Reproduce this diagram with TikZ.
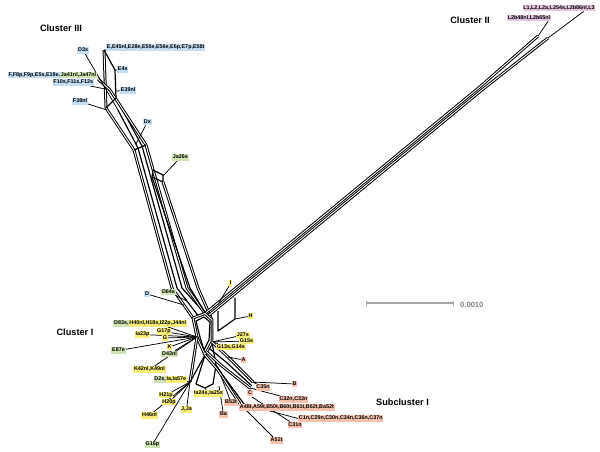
\documentclass[tikz,border=0pt]{standalone}
\usepackage{fontspec}
\setmainfont{Liberation Sans}
\usetikzlibrary{positioning, backgrounds}
\definecolor{yel}{HTML}{F9EE7A}
\definecolor{grn}{HTML}{CFE3B4}
\definecolor{blu}{HTML}{C4DDF0}
\definecolor{sal}{HTML}{F6C1AE}
\definecolor{pur}{HTML}{E3C6E0}
\tikzset{lab/.style={inner sep=0.7pt, text height=4pt, text depth=1.1pt, text=black,
                     font=\fontsize{5.4}{6}\selectfont\bfseries},
         yelbox/.style={lab, fill=yel},
         grnbox/.style={lab, fill=grn},
         blubox/.style={lab, fill=blu},
         salbox/.style={lab, fill=sal},
         purbox/.style={lab, fill=pur},
         ttl/.style={font=\fontsize{9.2}{11}\selectfont\bfseries},
         net/.style={line width=1.2pt, line join=round},
         band/.style={line width=1pt, double=white, double distance=0.9pt, line join=round},
         lead/.style={line width=0.75pt},
         scalebar/.style={line width=1.4pt, black!35},
         }

\begin{document}
\begin{tikzpicture}[x=1pt, y=-1pt]
    \useasboundingbox (0,0) rectangle (600,452);

    \node[ttl] (t3) at (61,28) {Cluster III};
    \node[ttl] (t2) at (470,20) {Cluster II};
    \node[ttl] (t1) at (75,332.5) {Cluster I};
    \node[ttl] (ts) at (402.5,402.5) {Subcluster I};

    \node[blubox, anchor=west] (e1) at (106,47.5) {E,E45nl,E28e,E55e,E56e,E6p,E7p,E58t};
    \node[blubox, anchor=east] (d3s) at (89,50.5) {D3s};
    \node[blubox, anchor=west] (e4s) at (117,69.5) {E4s};
    \node[grnbox, anchor=east] (f2) at (97,75) {Ja41nl,Ja47nl};
    \node[blubox, left=-1pt of f2] (f1) {F,F8p,F9p,E5s,E19e,};
    \node[blubox, anchor=east] (f10) at (94,82.5) {F10s,F11s,F12s};
    \node[blubox, anchor=west] (e39) at (120,90.5) {E39nl};
    \node[blubox, anchor=east] (f38) at (88,101.5) {F38nl};
    \node[blubox, anchor=west] (dx) at (143,122) {Dx};
    \node[grnbox, anchor=west] (ja26) at (172,157.5) {Ja26s};

    \node[purbox] (l1) at (559,8) {L1,L2,L2a,L254s,L2b86nl,L3};
    \node[purbox] (l2b) at (529,18) {L2b48nl,L2b65nl};

    \node[yelbox] (i) at (230.5,283.5) {I};
    \node[yelbox] (h) at (250.5,316) {H};
    \node[yelbox, anchor=west] (j27) at (236,335) {J27s};
    \node[yelbox, anchor=west] (g15) at (239,341) {G15s};
    \node[yelbox, anchor=west] (g13) at (216,347) {G13s,G14s};
    \node[blubox] (d) at (147,294) {D};
    \node[grnbox] (d64) at (168.5,292) {D64s};
    \node[yelbox, anchor=east] (d83b) at (187,323.5) {H40nl,H18s,I22p,J44nl};
    \node[grnbox, left=-1pt of d83b] (d83a) {D83s,};
    \node[yelbox] (ia23) at (142.5,334.5) {Ia23p};
    \node[yelbox] (g17) at (164,331.5) {G17p};
    \node[yelbox] (g) at (165,338) {G};
    \node[grnbox] (e87) at (118.5,350.5) {E87e};
    \node[yelbox] (k) at (169.5,347) {K};
    \node[grnbox] (d43) at (169.5,354) {D43nl};
    \node[yelbox] (k42) at (149.5,369.5) {K42nl,K49nl};
    \node[yelbox, anchor=east] (d2b) at (187,379.5) {Ia,Ia57e};
    \node[grnbox, left=-1pt of d2b] (d2a) {D2s,};
    \node[yelbox] (h21) at (166,395) {H21p};
    \node[yelbox] (h20) at (169,402) {H20p};
    \node[yelbox] (jja) at (186.5,409.5) {J,Ja};
    \node[yelbox] (h46) at (149.5,415.5) {H46nl};
    \node[grnbox] (g16) at (152.5,444.5) {G16p};
    \node[yelbox] (ia24) at (208.5,393.5) {Ia24s,Ia25s};

    \node[salbox] (a) at (243.5,360) {A};
    \node[salbox] (b) at (294.5,384) {B};
    \node[salbox] (c35) at (263,387.5) {C35n};
    \node[salbox] (c) at (250,393) {C};
    \node[salbox] (c32) at (293.5,399.5) {C32n,C33n};
    \node[salbox, anchor=west] (a48) at (239,407.5) {A48t,A59t,B50t,B60t,B61t,B62t,Ba52t};
    \node[salbox, anchor=west] (c1) at (298,418.5) {C1n,C29n,C30n,C34n,C36n,C37n};
    \node[salbox] (c31) at (295,425) {C31n};
    \node[salbox] (a51) at (276.5,440.5) {A51t};
    \node[salbox] (b53) at (231,402.5) {B53t};
    \node[salbox] (ba) at (223.5,414.5) {Ba};

    \coordinate (sb1) at (366,303);
    \coordinate (sb2) at (453,303);
    \node[right=7pt of sb2, yshift=-2pt, inner sep=0pt, text=black!50,
          font=\fontsize{7.6}{9}\selectfont\bfseries] (sbt) {0.0010};

    \coordinate (e0) at (104,50);
    \coordinate (e4) at (115,70);
    \coordinate (e5) at (116,98);
    \coordinate (e6) at (115.8,91);
    \coordinate (p1) at (106,108);
    \coordinate (fa) at (98,79);
    \coordinate (f9) at (110,90);
    \coordinate (fb) at (105,89);
    \coordinate (fc) at (107,110);
    \coordinate (d9) at (118,110);
    \coordinate (dxp) at (136,144);
    \coordinate (jt) at (153,170);
    \coordinate (jb) at (163,176);
    \coordinate (hA) at (193,318);
    \coordinate (hB) at (205,313.5);
    \coordinate (hC) at (212,320);
    \coordinate (hD) at (212,342);
    \coordinate (hE) at (205,355);
    \coordinate (hF) at (197,337);
    \coordinate (dp) at (184,305);
    \coordinate (dq) at (187,301);
    \coordinate (c2b) at (207.4,316.4);
    \coordinate (c2m1) at (479.6,87.1);
    \coordinate (c2m2) at (482,89.9);
    \coordinate (c2t1) at (538,36);
    \coordinate (c2t2) at (548,38);
    \coordinate (ip) at (218,304.5);
    \coordinate (bx1) at (218,311);
    \coordinate (bx2) at (218,331);
    \coordinate (bx3) at (235,319);
    \coordinate (bx4) at (235,297.5);
    \coordinate (j2) at (190,382);
    \coordinate (ja) at (196,384);
    \coordinate (jc) at (205,388);
    \coordinate (jd) at (213,384);
    \coordinate (je) at (216,365);
    \coordinate (sa) at (228,357);
    \coordinate (s1) at (253,382);
    \coordinate (s2) at (240,404);
    \coordinate (sd) at (250,388);
    \coordinate (se) at (244,404);
    \coordinate (sf) at (252,397);
    \coordinate (sb) at (221,376);
    \coordinate (sc) at (219,386);

    \begin{scope}[on background layer]
        \draw[band] (e0) -- (p1) -- (134,150) -- (172,288) -- (hA);
        \draw[net] (d9) -- (138,148) -- (177,288) -- (198,315.5);
        \draw[net] (e0) -- (e4) -- (e5) -- (142,146) -- (182,288) -- (hB);
        \draw[band] (fa) -- (f9) -- (146,145) -- (187,288) -- (hB);
        \draw[net] (p1) -- (e5) (134,150) -- (146,145);
        \draw[net] (jt) -- (163,175) -- (163,182) -- (152,177) -- cycle;
        \draw[net] (152,177) -- (190,288) -- (c2b);
        \draw[band] (163,182) -- (198,288) -- (hC);
        \draw[lead] (d3s) -- (d9) (f10) -- (fb) (f38) -- (fc) (e39) -- (e6)
                    (e4s) -- (e4) (e1) -- (e0) (dx) -- (dxp) (ja26) -- (jb);

        \draw[band] (hB) -- (c2m1) -- (c2t1);
        \draw[band] (c2b) -- (c2m2) -- (c2t2);
        \draw[net] (c2b) -- (hC);
        \draw[lead] (c2t1) -- ([xshift=-3pt]l2b.south east)
                    (c2t2) -- ([xshift=-12pt]l1.south east);
        \draw[net] (bx4) -- (bx3) -- (bx2) -- (bx1);
        \draw[lead] (ip) -- (i) (bx3) -- (h);

        \draw[band] (hA) -- (hB) -- (hC) -- (hD) -- (hE) -- (hF) -- cycle;
        \draw[net] (196,321) -- (204,317) -- (210,322) -- (209,340) -- (204,350) -- (200,337) -- cycle;
        \draw[lead] (d) -- (dp) (d64) -- (dq);
        \foreach \n in {d83b, g17, ia23, g, e87, k, d43, k42}
            \draw[lead] (hF) -- (\n);
        \foreach \n in {j27, g15, g13}
            \draw[lead] (hD) -- (\n);

        \draw[band] (hF) -- (j2);
        \draw[net] (hE) -- (j2);
        \draw[net] (hE) -- (ja) -- (jc) -- (jd) -- (je) -- (hD);
        \draw[lead] (jc) -- (ia24);
        \foreach \n in {d2b, h21, h20, jja, h46, g16}
            \draw[lead] (j2) -- (\n);

        \draw[band] (hD) -- (sa) -- (s1);
        \draw[net] (208.8,348) -- (226,362) -- (252,386);
        \draw[band] (206.6,352) -- (222,366) -- (sd);
        \draw[band] (hE) -- (218,370) -- (s2);
        \draw[net] (je) -- (222,374) -- (se);
        \draw[lead] (sa) -- (a) (s1) -- (b) (s1) -- (c35) (sd) -- (c32) (sd) -- (c)
                    (se) -- (c1.west) (sf) -- (c31) (s2) -- (a51)
                    (sb) -- (b53) (sc) -- (ba);

        \draw[scalebar] (sb1) -- (sb2);
        \draw[scalebar, line width=1pt] ([yshift=2.5pt]sb1) -- ([yshift=-2.5pt]sb1)
                                        ([yshift=2.5pt]sb2) -- ([yshift=-2.5pt]sb2);
    \end{scope}
\end{tikzpicture}
\end{document}
